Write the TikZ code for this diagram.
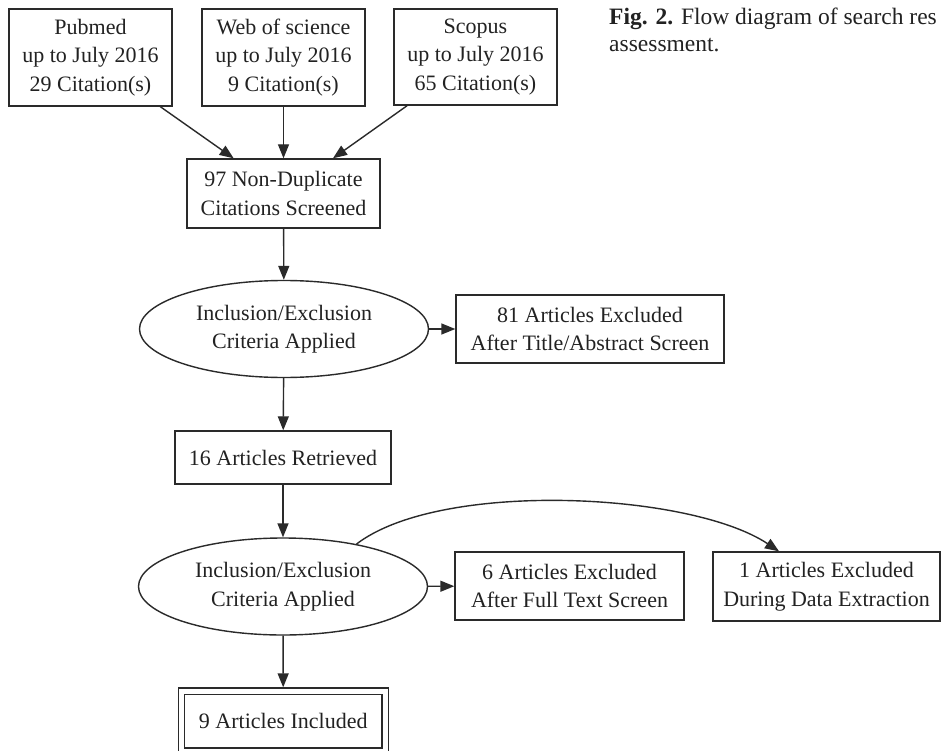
\documentclass[tikz,border=0pt]{standalone}
\usepackage{fontspec}
\setmainfont{Liberation Serif}
\usetikzlibrary{shapes.geometric,arrows.meta}
\definecolor{linec}{HTML}{2A2A2A}
\definecolor{textc}{HTML}{222222}
\begin{document}
\begin{tikzpicture}[x=1pt,y=-1pt,
  box/.style={draw=linec, line width=1.4pt, rectangle, inner sep=0pt, align=center,
    text=textc, font=\fontsize{22}{28.5}\selectfont},
  ell/.style={draw=linec, line width=1.4pt, ellipse, inner sep=0pt, align=center,
    text=textc, font=\fontsize{22}{28.5}\selectfont, minimum width=289pt, minimum height=97pt},
  arr/.style={draw=linec, line width=1.4pt, -{Triangle[length=14pt,width=11pt]}},
  capt/.style={anchor=base west, inner sep=0pt, text=textc, font=\fontsize{23.5}{27}\selectfont}]
\useasboundingbox (0,0) rectangle (941,751);
\clip (0,0) rectangle (941,751);
\fill[white] (0,0) rectangle (941,751);

% caption
\node[capt] (cap1) at (609,25) {\textbf{Fig. 2.} Flow diagram of search res};
\node[capt] (cap2) at (609,52) {assessment.};

% sources
\node[box, minimum width=163pt, minimum height=97pt] (pub) at (90.5,57.5) {Pubmed\\up to July 2016\\29 Citation(s)};
\node[box, minimum width=163pt, minimum height=97pt] (web) at (283.5,57.5) {Web of science\\up to July 2016\\9 Citation(s)};
\node[box, minimum width=163pt, minimum height=96pt] (sco) at (475.5,57) {Scopus\\up to July 2016\\65 Citation(s)};

\node[box, minimum width=193pt, minimum height=69pt] (dup) at (283.5,193.5) {97 Non-Duplicate\\Citations Screened};

\node[ell] (ell1) at (284,329) {Inclusion/Exclusion\\Criteria Applied};
\node[box, minimum width=268pt, minimum height=68pt] (ex1) at (590,329) {81 Articles Excluded\\After Title/Abstract Screen};

\node[box, minimum width=216pt, minimum height=53pt] (ret) at (283,457.5) {16 Articles Retrieved};

\node[ell] (ell2) at (283,586.5) {Inclusion/Exclusion\\Criteria Applied};
\node[box, minimum width=229pt, minimum height=68pt] (ex2) at (569.5,586) {6 Articles Excluded\\After Full Text Screen};
\node[box, minimum width=227pt, minimum height=69pt] (ex3) at (826.5,586.5) {1 Articles Excluded\\During Data Extraction};

\node[box, double, double distance=5pt, minimum width=203.5pt, minimum height=60pt] (inc) at (283.25,721) {9 Articles Included};

% connectors
\draw[arr] (pub) -- (dup);
\draw[arr] (web) -- (dup);
\draw[arr] (sco) -- (dup);
\draw[arr] (dup) -- (ell1);
\draw[arr] (ell1) -- (ex1);
\draw[arr] (ell1) -- (ret);
\draw[arr] (ret) -- (ell2);
\draw[arr] (ell2) -- (ex2);
\draw[arr, shorten >=3pt] (ell2) -- (inc);
\coordinate (ex3in) at ([xshift=-47.5pt]ex3.north);
\draw[arr] (ell2.30) .. controls (440,480) and (690,492) .. (ex3in);
\end{tikzpicture}
\end{document}
